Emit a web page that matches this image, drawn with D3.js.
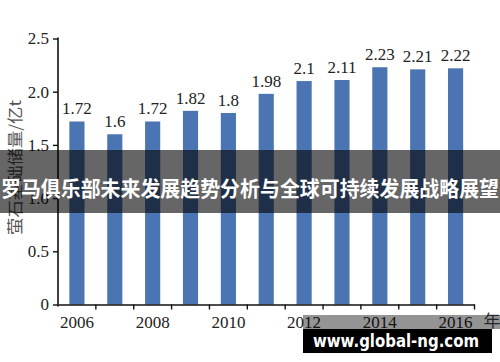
<!DOCTYPE html>
<html>
<head>
<meta charset="utf-8">
<script src="https://cdn.jsdelivr.net/npm/d3@7"></script>
<style>
  body { margin: 0; background: #fff; }
  svg { display: block; }
  .serif { font-family: "Liberation Serif", "Times New Roman", serif; }
</style>
</head>
<body>
<svg id="chart" width="500" height="362"></svg>
<script>
// data
const years = ["2006","2007","2008","2009","2010","2011","2012","2013","2014","2015","2016"];
const reserves = [1.72, 1.6, 1.72, 1.82, 1.8, 1.98, 2.1, 2.11, 2.23, 2.21, 2.22];
const valueLabels = ["1.72","1.6","1.72","1.82","1.8","1.98","2.1","2.11","2.23","2.21","2.22"];
const yTicks = [0, 0.5, 1.0, 1.5, 2.0, 2.5];
const xTickLabels = ["2006","2008","2010","2012","2014","2016"];
const yTitle = "萤石基础储量/亿t";
const banner = "罗马俱乐部未来发展趋势分析与全球可持续发展战略展望";
const site = "www.global-ng.com";

const svg = d3.select("#chart");
const mLeft = 58, mRight = 474.5, mTop = 38.5, mBottom = 304.5;

const x = d3.scaleBand().domain(years).range([mLeft, mRight]).paddingInner(0.6).paddingOuter(0.3);
const y = d3.scaleLinear().domain([0, 2.5]).range([mBottom, mTop]);

const barColor = "#4b75b2";

// bars
svg.append("g").selectAll("rect")
  .data(years)
  .join("rect")
    .attr("x", d => x(d))
    .attr("y", (d, i) => y(reserves[i]))
    .attr("width", x.bandwidth())
    .attr("height", (d, i) => y(0) - y(reserves[i]))
    .attr("fill", barColor);

// value labels
svg.append("g").attr("class", "serif").selectAll("text")
  .data(years)
  .join("text")
    .attr("x", d => x(d) + x.bandwidth() / 2)
    .attr("y", (d, i) => y(reserves[i]) - 7)
    .attr("text-anchor", "middle")
    .attr("font-size", 17)
    .attr("fill", "#222")
    .text((d, i) => valueLabels[i]);

// y axis
const yAxis = svg.append("g")
  .attr("transform", `translate(${mLeft},0)`)
  .call(d3.axisLeft(y).tickValues(yTicks).tickSize(5).tickPadding(4)
    .tickFormat(d => d === 0 ? "0" : d3.format(".1f")(d)));
yAxis.select(".domain").attr("stroke", "#111").attr("stroke-width", 1.6).attr("d", `M0,${mTop - 1}V${mBottom + 2}`);
yAxis.selectAll(".tick line").attr("stroke", "#111").attr("stroke-width", 1.4);
yAxis.selectAll("text").attr("font-size", 17).attr("fill", "#222")
  .attr("font-family", "Liberation Serif, Times New Roman, serif");

// x axis line + boundary ticks
const xAxis = svg.append("g")
  .attr("transform", `translate(0,${mBottom})`)
  .call(d3.axisBottom(x).tickValues(xTickLabels).tickSize(0).tickPadding(11));
xAxis.select(".domain").attr("stroke", "#111").attr("stroke-width", 1.6);
xAxis.selectAll("text").attr("font-size", 17).attr("fill", "#222")
  .attr("font-family", "Liberation Serif, Times New Roman, serif");

const gap = x.step() - x.bandwidth();
xAxis.append("g").selectAll("line")
  .data(years)
  .join("line")
    .attr("x1", d => x(d) + x.bandwidth() + gap / 2)
    .attr("x2", d => x(d) + x.bandwidth() + gap / 2)
    .attr("y1", 0)
    .attr("y2", 5)
    .attr("stroke", "#111")
    .attr("stroke-width", 1.4);

// x unit
svg.append("text")
  .attr("x", mRight + 9)
  .attr("y", mBottom + 22)
  .attr("font-size", 17)
  .attr("fill", "#444")
  .attr("font-family", "Noto Sans CJK SC, serif")
  .text("年");

// y title
svg.append("text")
  .attr("transform", `translate(14,${(mTop + mBottom) / 2 - 4}) rotate(-90)`)
  .attr("text-anchor", "middle")
  .attr("dominant-baseline", "central")
  .attr("font-size", 16)
  .attr("fill", "#555")
  .attr("font-family", "Noto Sans CJK SC, serif")
  .attr("textLength", 135)
  .attr("lengthAdjust", "spacingAndGlyphs")
  .text(yTitle);

// banner overlay
svg.append("rect")
  .attr("x", 0).attr("y", 150).attr("width", 500).attr("height", 63)
  .attr("fill", "rgba(0,0,0,0.6)");
svg.append("text")
  .attr("x", 250).attr("y", 186.5)
  .attr("text-anchor", "middle")
  .attr("dominant-baseline", "central")
  .attr("font-family", "Noto Sans CJK SC, sans-serif")
  .attr("font-weight", "bold")
  .attr("font-size", 21)
  .attr("fill", "#fff")
  .attr("textLength", 498)
  .attr("lengthAdjust", "spacingAndGlyphs")
  .text(banner);

// watermark
svg.append("rect")
  .attr("x", 303).attr("y", 315).attr("width", 197).attr("height", 14)
  .attr("fill", "rgba(0,0,0,0.42)");
svg.append("rect")
  .attr("x", 303).attr("y", 329).attr("width", 189).attr("height", 24)
  .attr("fill", "#000");
svg.append("text")
  .attr("x", 396).attr("y", 340)
  .attr("text-anchor", "middle")
  .attr("dominant-baseline", "central")
  .attr("font-family", "DejaVu Sans, sans-serif")
  .attr("font-weight", "bold")
  .attr("font-size", 18)
  .attr("fill", "#fff")
  .attr("textLength", 166)
  .attr("lengthAdjust", "spacingAndGlyphs")
  .text(site);
</script>
</body>
</html>
